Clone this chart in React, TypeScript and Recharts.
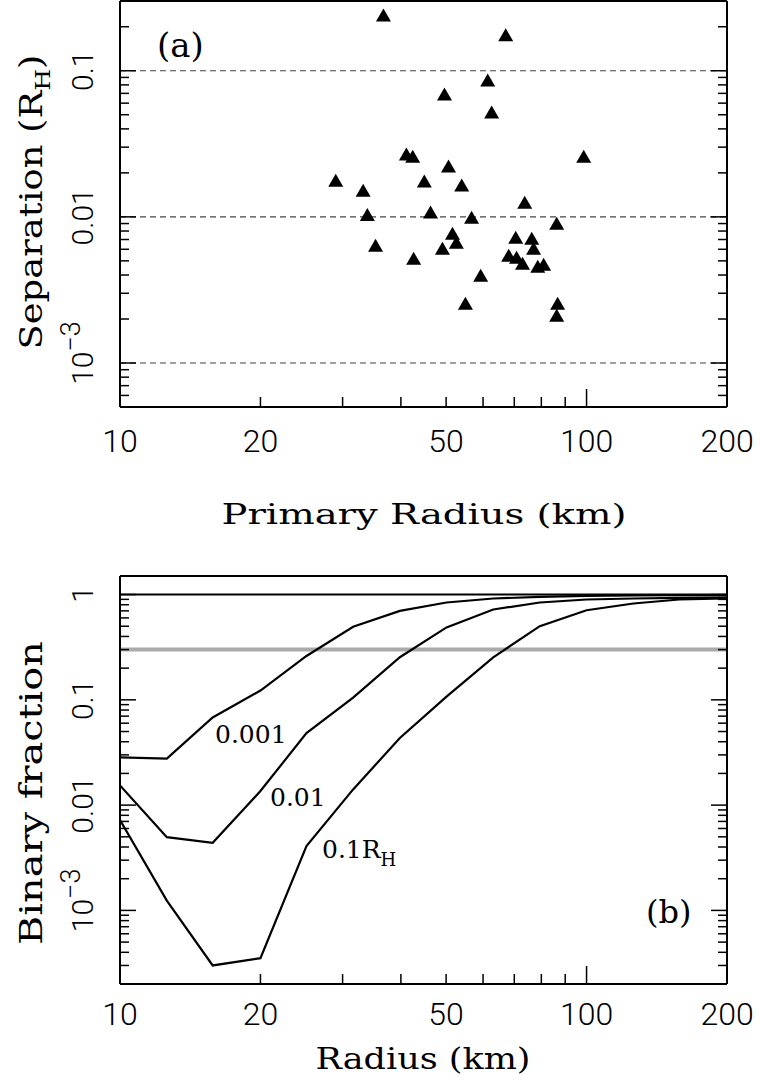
import React from "react";
import {
  ScatterChart,
  Scatter,
  LineChart,
  Line,
  XAxis,
  YAxis,
  ReferenceLine,
} from "recharts";

// (a) observed binaries: primary radius (km) vs separation (R_H)
const primaryRadius = [
  29.0, 33.2, 33.9, 35.3, 36.7, 67.1, 61.4, 49.6, 62.6, 41.1, 42.4, 98.6,
  50.6, 44.9, 54.0, 73.7, 46.3, 56.7, 86.3, 51.6, 52.6, 49.1, 70.5, 76.3,
  77.0, 42.6, 68.1, 70.8, 72.9, 78.6, 80.9, 59.3, 55.0, 86.7, 86.3,
];
const separation = [
  0.0178, 0.0152, 0.0104, 0.0064, 0.241, 0.176, 0.0864, 0.0692, 0.0521,
  0.0269, 0.026, 0.026, 0.0223, 0.0176, 0.0165, 0.0126, 0.0108, 0.00995,
  0.00905, 0.00773, 0.00671, 0.0061, 0.00726, 0.00715, 0.0061, 0.00521,
  0.00547, 0.0053, 0.00482, 0.00459, 0.00474, 0.00399, 0.00256, 0.00256,
  0.00212,
];

// (b) binary fraction vs radius for three separations
const radius = [10, 12.6, 15.8, 20, 25.1, 31.6, 39.8, 50.1, 63.1, 79.4, 100, 126, 158, 200];
const frac001 = [0.0284, 0.0277, 0.068, 0.1225, 0.261, 0.494, 0.7, 0.84, 0.917, 0.95, 0.97, 0.98, 0.985, 0.99];
const frac01 = [0.0154, 0.00496, 0.00438, 0.0136, 0.0484, 0.105, 0.254, 0.487, 0.721, 0.84, 0.897, 0.917, 0.93, 0.94];
const frac1 = [0.00721, 0.00124, 0.0003, 0.000352, 0.00409, 0.0141, 0.0434, 0.1074, 0.2535, 0.501, 0.71, 0.822, 0.897, 0.92];

// axes
const xTicks = [10, 20, 30, 40, 50, 60, 70, 80, 90, 100, 200];
const xTickLabels = [10, 20, 50, 100, 200];
const sepTicks = [
  0.0006, 0.0007, 0.0008, 0.0009, 0.001, 0.002, 0.003, 0.004, 0.005, 0.006,
  0.007, 0.008, 0.009, 0.01, 0.02, 0.03, 0.04, 0.05, 0.06, 0.07, 0.08, 0.09,
  0.1, 0.2,
];
const sepTickLabels = [0.001, 0.01, 0.1];
const fracTicks = [
  0.0003, 0.0004, 0.0005, 0.0006, 0.0007, 0.0008, 0.0009, 0.001, 0.002,
  0.003, 0.004, 0.005, 0.006, 0.007, 0.008, 0.009, 0.01, 0.02, 0.03, 0.04,
  0.05, 0.06, 0.07, 0.08, 0.09, 0.1, 0.2, 0.3, 0.4, 0.5, 0.6, 0.7, 0.8, 0.9, 1,
];
const fracTickLabels = [0.001, 0.01, 0.1, 1];

const sepData = primaryRadius.map((r, i) => ({ r, s: separation[i] }));
const fracData = radius.map((r, i) => ({
  r,
  a: frac001[i],
  b: frac01[i],
  c: frac1[i],
}));

const NUM_FONT = "Roboto, 'DejaVu Sans', sans-serif";
const TXT_FONT = "'DejaVu Serif', serif";

const isDecade = (v: number) =>
  Math.abs(Math.log10(v) - Math.round(Math.log10(v))) < 1e-6;

const frame = { stroke: "#000", strokeWidth: 2 };

function bottomTick(gap: number) {
  return (p: any) => {
    const v = p.payload.value;
    const len = isDecade(v) ? 18 : 10;
    return (
      <g>
        <line x1={p.x} y1={p.y} x2={p.x} y2={p.y - len} stroke="#000" strokeWidth={1.5} />
        {xTickLabels.includes(v) && (
          <text
            x={p.x}
            y={p.y + gap}
            textAnchor="middle"
            fontFamily={NUM_FONT}
            fontWeight={300}
            fontSize={32}
            fill="#000"
          >
            {v}
          </text>
        )}
      </g>
    );
  };
}

const topTick = (p: any) => {
  const len = isDecade(p.payload.value) ? 18 : 10;
  return <line x1={p.x} y1={p.y} x2={p.x} y2={p.y + len} stroke="#000" strokeWidth={1.5} />;
};

const rightTick = (p: any) => {
  const len = isDecade(p.payload.value) ? 16 : 9;
  return <line x1={p.x} y1={p.y} x2={p.x - len} y2={p.y} stroke="#000" strokeWidth={1.5} />;
};

function leftTick(labels: number[]) {
  return (p: any) => {
    const v = p.payload.value;
    const len = isDecade(v) ? 16 : 9;
    const tx = p.x - 27;
    const show = labels.some((l) => Math.abs(l - v) < 1e-12);
    const small = v < 0.005;
    return (
      <g>
        <line x1={p.x} y1={p.y} x2={p.x + len} y2={p.y} stroke="#000" strokeWidth={1.5} />
        {show && (
          <text
            x={tx + (small ? 10 : 0)}
            y={p.y}
            transform={`rotate(-90 ${tx} ${p.y})`}
            textAnchor="middle"
            fontFamily={NUM_FONT}
            fontWeight={300}
            fontSize={30}
            fill="#000"
          >
            {small ? (
              <>
                10
                <tspan dy={-13} fontSize={27}>
                  −3
                </tspan>
              </>
            ) : (
              String(v)
            )}
          </text>
        )}
      </g>
    );
  };
}

const Triangle = (p: any) => {
  const { cx, cy } = p;
  return (
    <path
      d={`M${cx},${cy - 6.5} L${cx + 7.5},${cy + 6.5} L${cx - 7.5},${cy + 6.5} Z`}
      fill="#000"
    />
  );
};

// axes are 1px thick so they still render; margins absorb that pixel
const axisCommon = {
  type: "number" as const,
  scale: "log" as const,
  allowDataOverflow: true,
  interval: 0,
  tickSize: 0,
  tickMargin: 0,
  axisLine: frame,
};

function SeparationPanel() {
  return (
    <ScatterChart width={761} height={470} margin={{ top: 0, right: 33, bottom: 62, left: 119 }}>
      <XAxis
        {...axisCommon}
        xAxisId="b"
        dataKey="r"
        domain={[10, 200]}
        ticks={xTicks}
        height={1}
        tick={bottomTick(45)}
      />
      <XAxis
        {...axisCommon}
        xAxisId="t"
        orientation="top"
        domain={[10, 200]}
        ticks={xTicks}
        height={1}
        tick={topTick}
      />
      <YAxis
        {...axisCommon}
        yAxisId="l"
        dataKey="s"
        domain={[0.0005, 0.3]}
        ticks={sepTicks}
        width={1}
        tick={leftTick(sepTickLabels)}
      />
      <YAxis
        {...axisCommon}
        yAxisId="r"
        orientation="right"
        domain={[0.0005, 0.3]}
        ticks={sepTicks}
        width={1}
        tick={rightTick}
      />
      {sepTickLabels.map((v) => (
        <ReferenceLine
          key={v}
          xAxisId="b"
          yAxisId="l"
          y={v}
          stroke="#444"
          strokeWidth={1.2}
          strokeDasharray="6 4"
        />
      ))}
      <Scatter
        xAxisId="b"
        yAxisId="l"
        data={sepData}
        shape={Triangle}
        isAnimationActive={false}
      />
    </ScatterChart>
  );
}

function FractionPanel() {
  return (
    <LineChart
      width={761}
      height={520}
      data={fracData}
      margin={{ top: 15, right: 33, bottom: 95, left: 119 }}
    >
      <XAxis
        {...axisCommon}
        xAxisId="b"
        dataKey="r"
        domain={[10, 200]}
        ticks={xTicks}
        height={1}
        tick={bottomTick(41)}
      />
      <XAxis
        {...axisCommon}
        xAxisId="t"
        orientation="top"
        domain={[10, 200]}
        ticks={xTicks}
        height={1}
        tick={topTick}
      />
      <YAxis
        {...axisCommon}
        yAxisId="l"
        domain={[0.0002, 1.5]}
        ticks={fracTicks}
        width={1}
        tick={leftTick(fracTickLabels)}
      />
      <YAxis
        {...axisCommon}
        yAxisId="r"
        orientation="right"
        domain={[0.0002, 1.5]}
        ticks={fracTicks}
        width={1}
        tick={rightTick}
      />
      <ReferenceLine xAxisId="b" yAxisId="l" y={0.3} stroke="#aaaaaa" strokeWidth={4} />
      <ReferenceLine xAxisId="b" yAxisId="l" y={1} stroke="#000" strokeWidth={2} />
      {["a", "b", "c"].map((k) => (
        <Line
          key={k}
          xAxisId="b"
          yAxisId="l"
          dataKey={k}
          stroke="#000"
          strokeWidth={2.2}
          dot={false}
          activeDot={false}
          isAnimationActive={false}
        />
      ))}
    </LineChart>
  );
}

export default function App() {
  return (
    <div
      style={{
        position: "absolute",
        left: 0,
        top: 0,
        width: 761,
        height: 1080,
        background: "#fff",
        overflow: "hidden",
      }}
    >
      <div style={{ position: "absolute", left: 0, top: 0 }}>
        <SeparationPanel />
      </div>
      <div style={{ position: "absolute", left: 0, top: 560 }}>
        <FractionPanel />
      </div>
      <svg
        width={761}
        height={1080}
        style={{ position: "absolute", left: 0, top: 0, pointerEvents: "none" }}
        fontFamily={TXT_FONT}
        fill="#000"
      >
        <text
          x={42}
          y={202}
          transform="rotate(-90 42 202)"
          textAnchor="middle"
          fontSize={31}
          textLength={295}
          lengthAdjust="spacingAndGlyphs"
        >
          Separation (R
          <tspan dy={8} fontSize={21}>
            H
          </tspan>
          <tspan dy={-8}>)</tspan>
        </text>
        <text
          x={42}
          y={793}
          transform="rotate(-90 42 793)"
          textAnchor="middle"
          fontSize={31}
          textLength={304}
          lengthAdjust="spacingAndGlyphs"
        >
          Binary fraction
        </text>
        <text
          x={424}
          y={524}
          textAnchor="middle"
          fontSize={28}
          textLength={405}
          lengthAdjust="spacingAndGlyphs"
        >
          Primary Radius (km)
        </text>
        <text
          x={423}
          y={1069}
          textAnchor="middle"
          fontSize={29}
          textLength={215}
          lengthAdjust="spacingAndGlyphs"
        >
          Radius (km)
        </text>
        <text x={157} y={57} fontSize={34}>
          (a)
        </text>
        <text x={646} y={923} fontSize={32}>
          (b)
        </text>
        <text x={215} y={743} fontSize={25}>
          0.001
        </text>
        <text x={270} y={806} fontSize={25}>
          0.01
        </text>
        <text x={322} y={858} fontSize={25}>
          0.1R
          <tspan dy={8} fontSize={18}>
            H
          </tspan>
        </text>
      </svg>
    </div>
  );
}
